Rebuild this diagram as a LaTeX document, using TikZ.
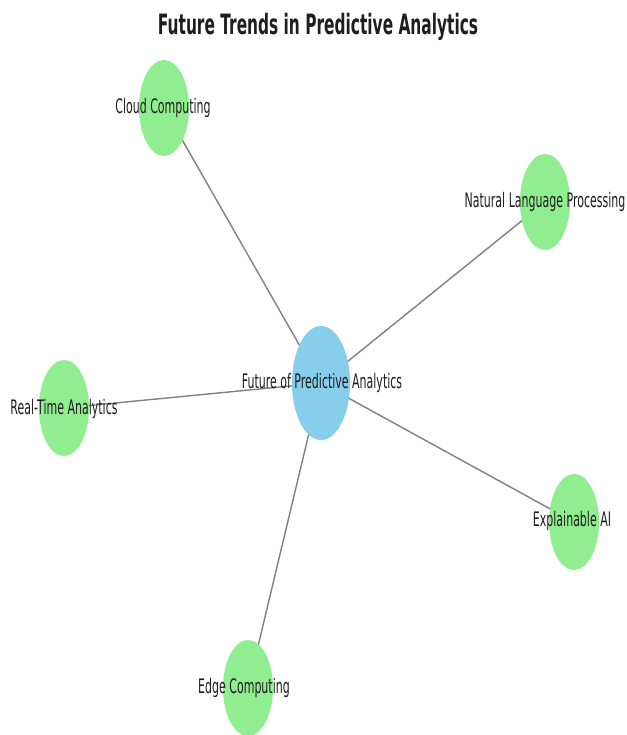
\documentclass[tikz,border=0pt]{standalone}
\usepackage{fontspec}
\usepackage{graphicx}
\setmainfont{DejaVu Sans}
\usetikzlibrary{shapes.geometric,backgrounds}
\definecolor{leafgreen}{RGB}{144,238,144}
\definecolor{hubblue}{RGB}{135,206,235}
\definecolor{edgegray}{RGB}{128,128,128}
\definecolor{labelink}{RGB}{30,30,30}
\newcommand{\sq}[1]{\scalebox{0.55}[1]{#1}}
\tikzset{
  leaf/.style={ellipse, fill=leafgreen, draw=none, inner sep=0pt, minimum width=50pt, minimum height=96pt},
  hub/.style={ellipse, fill=hubblue, draw=none, inner sep=0pt, minimum width=58pt, minimum height=114pt},
  lbl/.style={inner sep=0pt, text=labelink, font=\fontsize{20}{24}\selectfont},
  link/.style={draw=edgegray, line width=1.4pt},
  ttl/.style={inner sep=0pt, anchor=base, text=labelink, font=\fontsize{28}{32}\selectfont\bfseries}
}
\begin{document}
\begin{tikzpicture}[x=1pt, y=-1pt]
\useasboundingbox (0,0) rectangle (626,735);
\node[ttl] (title) at (318,35) {\sq{Future Trends in Predictive Analytics}};
% nodes
\node[hub]  (hubN)   at (321,383) {};
\node[leaf] (cloud)  at (164,108) {};
\node[leaf] (nlp)    at (545,202) {};
\node[leaf] (rta)    at (64,408) {};
\node[leaf] (xai)    at (574,522) {};
\node[leaf] (edge)   at (248,688) {};
% labels
\node[lbl] (hubT)   at (322,383) {\sq{Future of Predictive Analytics}};
\node[lbl] (cloudT) at (163,108) {\sq{Cloud Computing}};
\node[lbl] (nlpT)   at (545,202) {\sq{Natural Language Processing}};
\node[lbl] (rtaT)   at (64,409)  {\sq{Real-Time Analytics}};
\node[lbl] (xaiT)   at (572,521) {\sq{Explainable AI}};
\node[lbl] (edgeT)  at (244,688) {\sq{Edge Computing}};
% edges
\begin{pgfonlayer}{background}
\draw[link] (hubN.center) -- (cloud.center);
\draw[link] (hubN.center) -- (nlp.center);
\draw[link] (hubN.center) -- (rta.center);
\draw[link] (hubN.center) -- (xai.center);
\draw[link] (hubN.center) -- (edge.center);
\end{pgfonlayer}
\end{tikzpicture}
\end{document}
